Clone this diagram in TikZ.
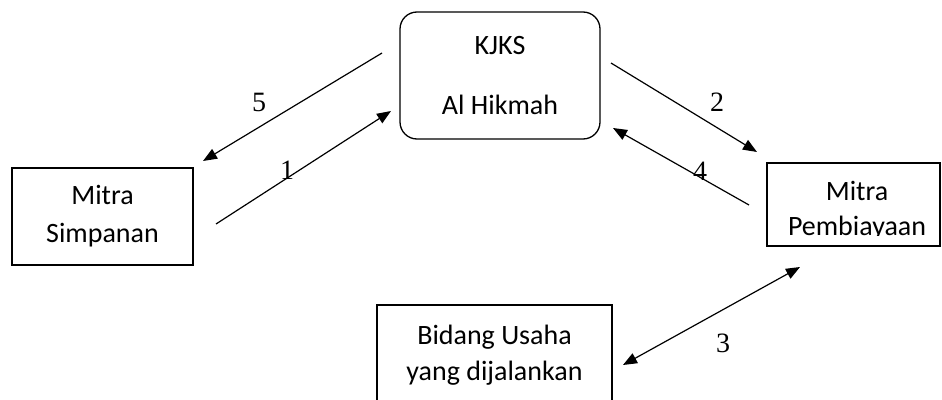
\documentclass[tikz,border=0pt]{standalone}
\usepackage{fontspec}
\setmainfont{Carlito}
\newfontfamily\numfont{Liberation Serif}
\usetikzlibrary{arrows.meta}

\tikzset{
  box/.style={draw,line width=1.3pt,align=center,inner sep=0pt},
  numlabel/.style={font=\numfont\fontsize{28}{34}\selectfont}
}

\begin{document}
\begin{tikzpicture}[>={Triangle[length=14pt,width=11pt]},line width=1.2pt,
    x=1pt,y=-1pt,font=\fontsize{28}{34}\selectfont]
  \clip (0,0) rectangle (942,399);

  % kotak
  \node[box,rounded corners=17pt,minimum width=200pt,minimum height=127pt]
    (kjks) at (500,75.5) {KJKS\\[26pt]Al Hikmah};
  \node[box,minimum width=181pt,minimum height=97pt]
    (simpanan) at (102.5,216.5) {Mitra\\[4pt]Simpanan};
  \node[box,minimum width=173pt,minimum height=83pt]
    (pembiayaan) at (853.5,204.5) {};
  \begin{scope}
    \clip (767,163) rectangle (940,235);
    \node[align=center,inner sep=0pt] (pembtext) at (857,210.5) {Mitra\\[1pt]Pembiayaan};
  \end{scope}
  \node[box,minimum width=235pt,minimum height=100pt]
    (usaha) at (494.5,355) {Bidang Usaha\\[2pt]yang dijalankan};

  % ujung panah
  \coordinate (s5) at (382,53);
  \coordinate (e5) at (203,161);
  \coordinate (s1) at (216,224);
  \coordinate (e1) at (391,111);
  \coordinate (s2) at (611,63);
  \coordinate (e2) at (757,152);
  \coordinate (s4) at (749,205);
  \coordinate (e4) at (613,128);
  \coordinate (s3) at (623,365);
  \coordinate (e3) at (800,267);

  % panah
  \draw[->] (s5) -- (e5);
  \draw[->] (s1) -- (e1);
  \draw[->] (s2) -- (e2);
  \draw[->] (s4) -- (e4);
  \draw[<->] (s3) -- (e3);

  % nomor
  \node[numlabel] (l5) at (259,102) {5};
  \node[numlabel] (l1) at (287,170) {1};
  \node[numlabel] (l2) at (717,102) {2};
  \node[numlabel] (l4) at (700,171) {4};
  \node[numlabel] (l3) at (723,343) {3};
\end{tikzpicture}
\end{document}
